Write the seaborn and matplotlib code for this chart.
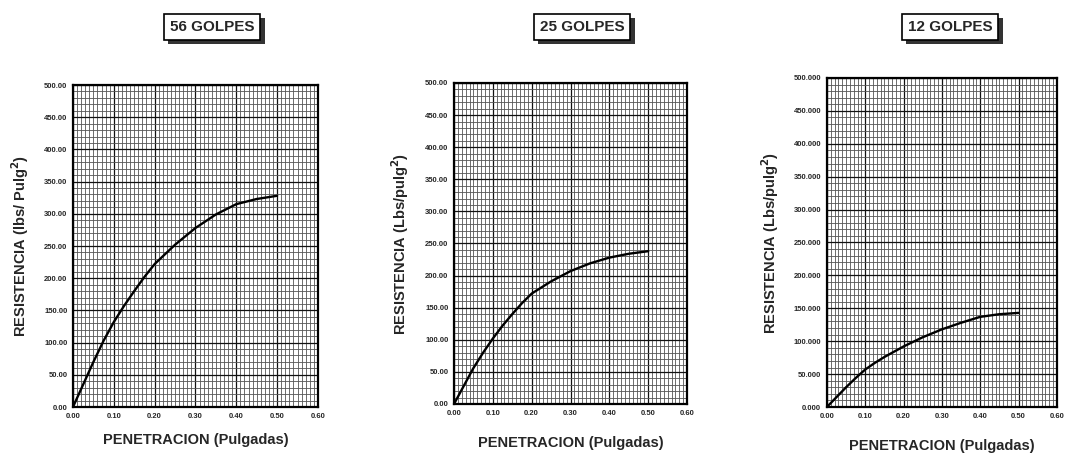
import matplotlib
matplotlib.use("Agg")
import matplotlib.pyplot as plt
import matplotlib.patheffects as pe
from matplotlib.ticker import MultipleLocator, FormatStrFormatter
import pandas as pd
import seaborn as sns

sns.set_theme(style="white")
plt.rcParams["font.family"] = ["Liberation Sans", "DejaVu Sans"]

# penetración (pulgadas) y resistencia (lbs/pulg²)
penetracion = [0.0, 0.025, 0.05, 0.075, 0.10, 0.125, 0.15, 0.175, 0.20,
               0.25, 0.30, 0.35, 0.40, 0.45, 0.50]
res_56 = [0, 35, 70, 103, 132, 157, 180, 202, 222, 252, 278, 299, 315, 323, 328]
res_25 = [0, 28, 56, 80, 102, 122, 140, 157, 172, 191, 207, 219, 228, 234, 238]
res_12 = [0, 15, 30, 44, 57, 67, 76, 84, 92, 106, 118, 128, 137, 141, 143]

titulos = ["56 GOLPES", "25 GOLPES", "12 GOLPES"]
ylabels = [
    "RESISTENCIA (lbs/ Pulg$\\mathbf{^2}$)",
    "RESISTENCIA (Lbs/pulg$\\mathbf{^2}$)",
    "RESISTENCIA (Lbs/pulg$\\mathbf{^2}$)",
]
yfmt = ["%.2f", "%.2f", "%.3f"]
series = [res_56, res_25, res_12]

# posiciones de los ejes en fracción de figura
boxes = [
    [0.0684, 0.1094, 0.2296, 0.7046],
    [0.4255, 0.1160, 0.2184, 0.7024],
    [0.7750, 0.1094, 0.2155, 0.7200],
]
title_x = [212, 582, 950]
ylab_x = [-0.216, -0.232, -0.245]
xlab_y = [-0.102, -0.121, -0.117]

fig = plt.figure(figsize=(10.67, 4.57), dpi=100)

for i in range(3):
    ax = fig.add_axes(boxes[i])
    df = pd.DataFrame({"x": penetracion, "y": series[i]})
    sns.lineplot(data=df, x="x", y="y", ax=ax, color="black", lw=1.7, zorder=5)

    ax.set_xlim(0, 0.6)
    ax.set_ylim(0, 500)
    ax.xaxis.set_major_locator(MultipleLocator(0.1))
    ax.xaxis.set_minor_locator(MultipleLocator(0.01))
    ax.yaxis.set_major_locator(MultipleLocator(50))
    ax.yaxis.set_minor_locator(MultipleLocator(10))
    ax.xaxis.set_major_formatter(FormatStrFormatter("%.2f"))
    ax.yaxis.set_major_formatter(FormatStrFormatter(yfmt[i]))
    ax.grid(which="minor", color="#555555", lw=0.6)
    ax.grid(which="major", color="#111111", lw=0.9)
    ax.set_axisbelow(True)
    ax.tick_params(which="both", length=0, labelsize=5.5, pad=4)
    for lab in ax.get_xticklabels() + ax.get_yticklabels():
        lab.set_fontweight("bold")
    for sp in ax.spines.values():
        sp.set_visible(True)
        sp.set_color("black")
        sp.set_linewidth(1.6)

    ax.set_xlabel("PENETRACION (Pulgadas)", fontsize=10.5, fontweight="bold")
    ax.set_ylabel(ylabels[i], fontsize=10.5, fontweight="bold")
    ax.xaxis.label.set_va("center")
    ax.yaxis.label.set_va("center")
    ax.xaxis.set_label_coords(0.5, xlab_y[i])
    ax.yaxis.set_label_coords(ylab_x[i], 0.5)

    fig.text(
        title_x[i] / 1067, 1 - 27 / 457, titulos[i],
        ha="center", va="center", fontsize=11, fontweight="bold",
        bbox=dict(boxstyle="square,pad=0.4", fc="white", ec="black", lw=1.2,
                  path_effects=[pe.withSimplePatchShadow(offset=(3, -3), shadow_rgbFace="black", alpha=0.8)]),
    )

fig.savefig("out.png", dpi=100)
